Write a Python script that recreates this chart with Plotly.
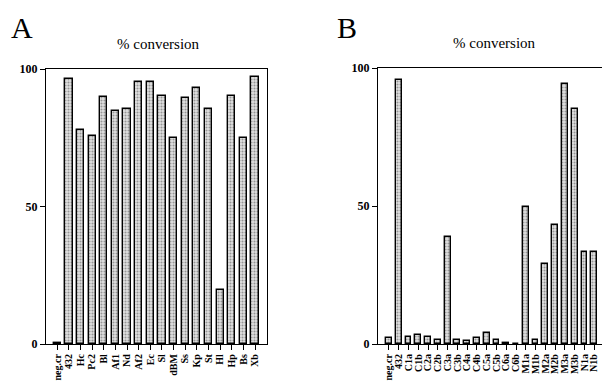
import plotly.graph_objects as go

cats_a = ["neg.cr", "432", "Hc", "Pc2", "Bl", "Af1", "Nd", "Af2", "Ec", "Sl",
          "dBM", "Ss", "Kp", "St", "Hl", "Hp", "Bs", "Xb"]
vals_a = [0.5, 96.5, 78, 75.5, 90, 84.7, 85.3, 95.2, 95.4, 90.3,
          74.8, 89.6, 93, 85.3, 19.6, 90.3, 74.8, 97]

cats_b = ["neg.cr", "432", "C1a", "C1b", "C2a", "C2b", "C3a", "C3b", "C4a", "C4b",
          "C5a", "C5b", "C6a", "C6b", "M1a", "M1b", "M2a", "M2b", "M3a", "M3b",
          "N1a", "N1b"]
vals_b = [2, 95.6, 2.4, 3.2, 2.5, 1.3, 38.6, 1.6, 1.2, 2,
          4, 1.6, 0.5, 0, 49.5, 1.5, 29, 43.1, 94.2, 85.3,
          33.2, 33.2]

y_ticks = [0, 50, 100]
serif = "Liberation Serif, Times New Roman, serif"

# page body margin offset (px)
OFF = 8
W, H = 610 - OFF, 385 - OFF


def px(x):
    return (x - OFF) / W


def py(y):
    return 1 - (y - OFF) / H


fig = go.Figure()

marker = dict(
    color="#d8d8d8",
    line=dict(color="black", width=1.4),
    pattern=dict(shape=".", fgcolor="#4a4a4a", bgcolor="#e2e2e2", size=3, solidity=0.4),
)

fig.add_trace(go.Bar(x=list(range(len(cats_a))), y=vals_a, width=0.62,
                     marker=marker, xaxis="x", yaxis="y", showlegend=False))
fig.add_trace(go.Bar(x=list(range(len(cats_b))), y=vals_b, width=0.6,
                     marker=marker, xaxis="x2", yaxis="y2", showlegend=False))

common_x = dict(showline=True, mirror=True, linecolor="black", linewidth=1.2,
                ticks="outside", ticklen=5, tickcolor="black", tickangle=-90,
                showgrid=False, zeroline=False, automargin=False,
                tickfont=dict(family=serif, size=10, color="black", weight=700))
common_y = dict(showline=True, mirror=True, linecolor="black", linewidth=1.2,
                ticks="outside", ticklen=5, tickcolor="black",
                showgrid=False, zeroline=False, range=[0, 100], automargin=False,
                tickvals=y_ticks, ticktext=[str(v) for v in y_ticks],
                tickfont=dict(family=serif, size=12, color="black", weight=700))

fig.update_layout(
    width=W, height=H,
    margin=dict(l=0, r=0, t=0, b=0, autoexpand=False),
    paper_bgcolor="white", plot_bgcolor="white",
    bargap=0,
    xaxis=dict(domain=[px(46), px(267)], range=[-0.97, 18.03],
               tickvals=list(range(len(cats_a))), ticktext=cats_a, anchor="y", **common_x),
    yaxis=dict(domain=[py(344), py(69)], anchor="x", **common_y),
    xaxis2=dict(domain=[px(378), px(603)], range=[-1.12, 21.9],
                tickvals=list(range(len(cats_b))), ticktext=cats_b, anchor="y2", **common_x),
    yaxis2=dict(domain=[py(344), py(68)], anchor="x2", **common_y),
    annotations=[
        dict(text="A", x=px(22), y=py(27), xref="paper", yref="paper",
             xanchor="center", yanchor="middle",
             showarrow=False, font=dict(family=serif, size=30, color="black")),
        dict(text="B", x=px(347), y=py(27), xref="paper", yref="paper",
             xanchor="center", yanchor="middle",
             showarrow=False, font=dict(family=serif, size=30, color="black")),
        dict(text="% conversion", x=px(158), y=py(44), xref="paper", yref="paper",
             xanchor="center", yanchor="middle",
             showarrow=False, font=dict(family=serif, size=15, color="black")),
        dict(text="% conversion", x=px(494), y=py(43), xref="paper", yref="paper",
             xanchor="center", yanchor="middle",
             showarrow=False, font=dict(family=serif, size=15, color="black")),
    ],
)

fig.write_html("out.html")
